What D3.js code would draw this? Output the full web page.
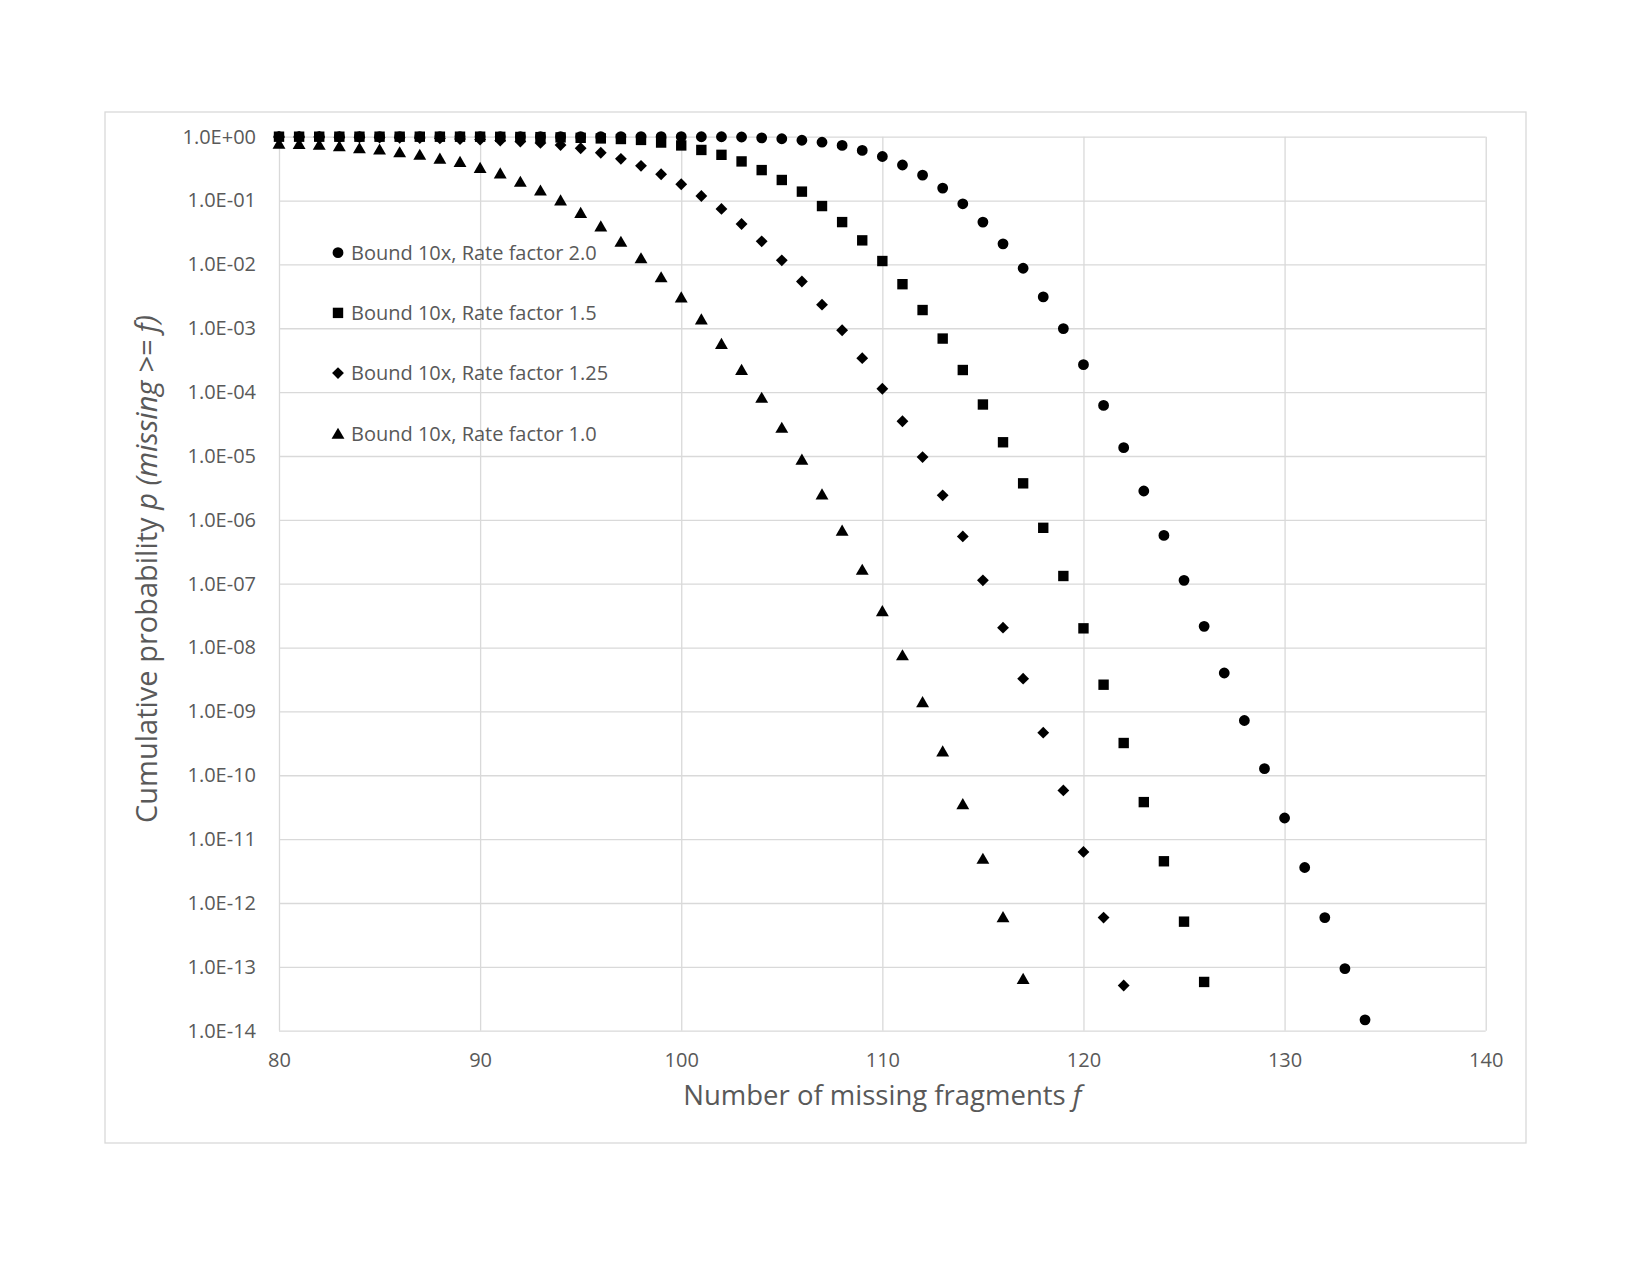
<!DOCTYPE html>
<html>
<head>
<meta charset="utf-8">
<script src="https://cdn.jsdelivr.net/npm/d3@7"></script>
<style>
  body { margin: 0; background: #ffffff; }
  text { font-family: "Open Sans", sans-serif; fill: #595959; }
</style>
</head>
<body>
<div id="chart"></div>
<script>
// number of missing fragments f (x values)
var missing = [80, 81, 82, 83, 84, 85, 86, 87, 88, 89, 90, 91, 92, 93, 94, 95, 96, 97, 98, 99,
  100, 101, 102, 103, 104, 105, 106, 107, 108, 109, 110, 111, 112, 113, 114, 115, 116, 117, 118, 119,
  120, 121, 122, 123, 124, 125, 126, 127, 128, 129, 130, 131, 132, 133, 134];

// cumulative probabilities, one value per f starting at 80
var rate20 = [1, 1, 1, 1, 1, 1, 1, 1, 1, 1, 1, 1, 1, 1, 1, 1, 1, 1, 1, 1,
  1, 0.999, 0.998, 0.99, 0.96, 0.93, 0.88, 0.82, 0.73, 0.61, 0.49, 0.36, 0.25, 0.157, 0.089, 0.046, 0.021, 0.0087, 0.0031, 0.00099,
  2.69e-4, 6.2e-5, 1.35e-5, 2.83e-6, 5.7e-7, 1.13e-7, 2.15e-8, 4.0e-9, 7.2e-10, 1.27e-10, 2.14e-11, 3.6e-12, 5.9e-13, 9.4e-14, 1.48e-14];
var rate15 = [1, 1, 1, 1, 1, 1, 1, 1, 1, 1, 1, 0.995, 0.99, 0.985, 0.975, 0.96, 0.94, 0.92, 0.89, 0.81,
  0.73, 0.62, 0.52, 0.41, 0.30, 0.21, 0.138, 0.082, 0.046, 0.0238, 0.0113, 0.0049, 0.00193, 6.9e-4, 2.22e-4, 6.4e-5, 1.64e-5, 3.73e-6, 7.5e-7, 1.32e-7,
  2.0e-8, 2.62e-9, 3.2e-10, 3.8e-11, 4.5e-12, 5.1e-13, 5.8e-14];
var rate125 = [0.99, 0.99, 0.99, 0.98, 0.98, 0.97, 0.96, 0.95, 0.94, 0.92, 0.90, 0.87, 0.84, 0.80, 0.74, 0.66, 0.56, 0.45, 0.35, 0.258,
  0.18, 0.118, 0.074, 0.043, 0.023, 0.0116, 0.0054, 0.00234, 9.3e-4, 3.4e-4, 1.13e-4, 3.5e-5, 9.6e-6, 2.42e-6, 5.5e-7, 1.13e-7, 2.05e-8, 3.26e-9, 4.65e-10, 5.8e-11,
  6.3e-12, 5.9e-13, 5.1e-14];
var rate10 = [0.79, 0.78, 0.76, 0.72, 0.67, 0.64, 0.58, 0.53, 0.46, 0.41, 0.33, 0.27, 0.20, 0.146, 0.102, 0.065, 0.040, 0.023, 0.0127, 0.0064,
  0.0031, 0.0014, 5.8e-4, 2.27e-4, 8.3e-5, 2.81e-5, 8.9e-6, 2.54e-6, 6.9e-7, 1.68e-7, 3.78e-8, 7.7e-9, 1.42e-9, 2.4e-10, 3.6e-11, 5.0e-12, 6.1e-13, 6.6e-14];

var seriesNames = ["Bound 10x, Rate factor 2.0", "Bound 10x, Rate factor 1.5",
  "Bound 10x, Rate factor 1.25", "Bound 10x, Rate factor 1.0"];
var seriesValues = [rate20, rate15, rate125, rate10];
var seriesShapes = ["circle", "square", "diamond", "triangle"];

var xTicks = [80, 90, 100, 110, 120, 130, 140];
var yTicks = [1e0, 1e-1, 1e-2, 1e-3, 1e-4, 1e-5, 1e-6, 1e-7, 1e-8, 1e-9, 1e-10, 1e-11, 1e-12, 1e-13, 1e-14];

var width = 1650, height = 1275;
var margin = {top: 136.7, right: 164.3, bottom: 244.3, left: 279};
var plotW = width - margin.left - margin.right,
    plotH = height - margin.top - margin.bottom;

var svg = d3.select("#chart").append("svg")
  .attr("width", width)
  .attr("height", height);

// outer chart frame
svg.append("rect")
  .attr("x", 105).attr("y", 112)
  .attr("width", 1421).attr("height", 1031)
  .style("fill", "none")
  .style("stroke", "#d9d9d9")
  .style("stroke-width", 1.3);

var g = svg.append("g")
  .attr("transform", "translate(" + margin.left + "," + margin.top + ")");

var x = d3.scaleLinear().domain([80, 140]).range([0, plotW]);
var y = d3.scaleLog().domain([1, 1e-14]).range([0, plotH]);

function expLabel(v) {
  var e = Math.round(Math.log10(v));
  var s = Math.abs(e) < 10 ? "0" + Math.abs(e) : "" + Math.abs(e);
  return "1.0E" + (e >= 0 ? "+" : "-") + s;
}

// gridlines
g.append("g")
  .attr("class", "grid")
  .attr("transform", "translate(0," + plotH + ")")
  .call(d3.axisBottom(x).tickValues(xTicks).tickSize(-plotH).tickFormat(""));
g.append("g")
  .attr("class", "grid")
  .call(d3.axisLeft(y).tickValues(yTicks).tickSize(-plotW).tickFormat(""));
g.selectAll(".grid path").style("stroke-width", 0);
g.selectAll(".grid line")
  .style("stroke", "#d9d9d9")
  .style("stroke-width", 1.3);

// x axis labels
var xAxis = g.append("g")
  .attr("transform", "translate(0," + plotH + ")")
  .call(d3.axisBottom(x).tickValues(xTicks).tickSize(0).tickPadding(22).tickFormat(d3.format("d")));
xAxis.select("path").remove();

// y axis labels
var yAxis = g.append("g")
  .call(d3.axisLeft(y).tickValues(yTicks).tickSize(0).tickPadding(23).tickFormat(expLabel));
yAxis.select("path").remove();

g.selectAll(".tick text")
  .style("font-family", "'Open Sans', sans-serif")
  .style("font-size", "20px")
  .style("fill", "#595959");

function shapePath(shape) {
  if (shape == "circle") return d3.symbol(d3.symbolCircle, 92)();
  if (shape == "square") return d3.symbol(d3.symbolSquare, 108)();
  if (shape == "diamond") return d3.symbol(d3.symbolSquare, 70)();
  return d3.symbol(d3.symbolTriangle, 72)();
}
function shapeTransform(shape, px, py) {
  if (shape == "diamond") return "translate(" + px + "," + py + ") rotate(45)";
  if (shape == "triangle") return "translate(" + px + "," + (py + 1.8) + ")";
  return "translate(" + px + "," + py + ")";
}

// draw the series
seriesValues.forEach(function(vals, i) {
  var pts = vals.map(function(v, j) { return {f: missing[j], p: v}; });
  g.append("g").selectAll("path")
    .data(pts)
    .enter().append("path")
    .attr("d", shapePath(seriesShapes[i]))
    .attr("transform", function(d) { return shapeTransform(seriesShapes[i], x(d.f), y(d.p)); })
    .style("fill", "#000000");
});

// legend inside plot area
var legend = svg.append("g").attr("transform", "translate(338,252.7)");
seriesNames.forEach(function(name, i) {
  var row = legend.append("g").attr("transform", "translate(0," + (i * 60.2) + ")");
  row.append("path")
    .attr("d", shapePath(seriesShapes[i]))
    .attr("transform", shapeTransform(seriesShapes[i], 0, 0))
    .style("fill", "#000000");
  row.append("text")
    .attr("x", 13)
    .attr("y", 7.2)
    .style("font-size", "20px")
    .text(name);
});

// axis titles
var xt = svg.append("text")
  .attr("x", margin.left + plotW / 2)
  .attr("y", 1105)
  .attr("text-anchor", "middle")
  .style("font-size", "27.5px");
xt.append("tspan").text("Number of missing fragments ");
xt.append("tspan").style("font-style", "italic").text("f");

var yt = svg.append("text")
  .attr("transform", "translate(157,569) rotate(-90)")
  .attr("text-anchor", "middle")
  .style("font-size", "29px");
yt.append("tspan").text("Cumulative probability ");
yt.append("tspan").style("font-style", "italic").text("p");
yt.append("tspan").text(" ");
yt.append("tspan").style("font-style", "italic").text("(missing >= f)");
</script>
</body>
</html>
